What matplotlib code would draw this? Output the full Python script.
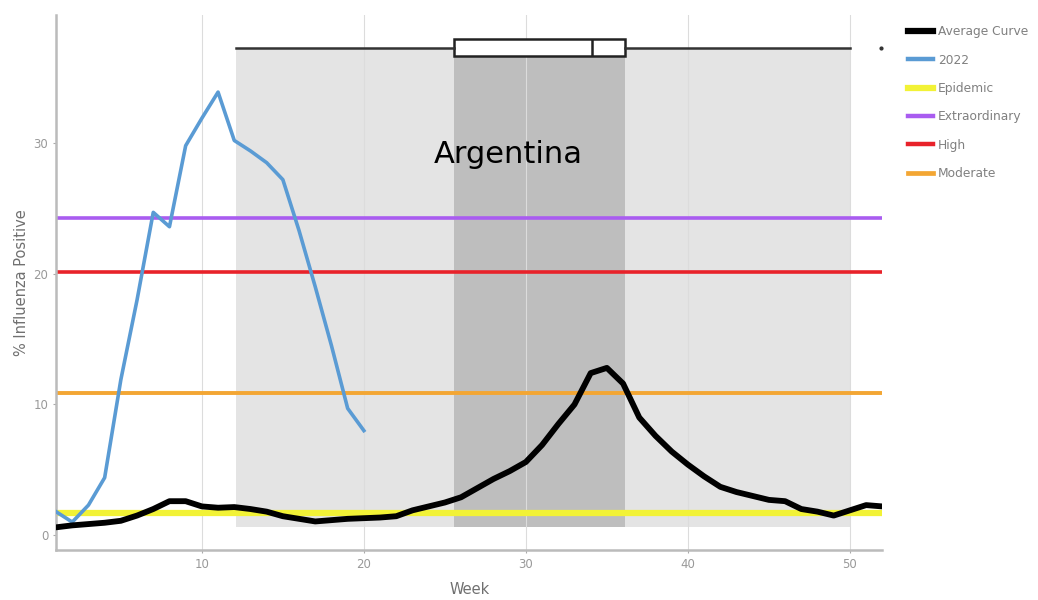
import numpy as np
import matplotlib as mpl
mpl.use('Agg')
import matplotlib.pyplot as plt

# weekly average curve (weeks 1-52)
weeks = list(range(1, 53))
avg_curve = [0.6, 0.75, 0.85, 0.95, 1.1, 1.5, 2.0, 2.6, 2.6, 2.2,
             2.1, 2.15, 2.0, 1.8, 1.45, 1.25, 1.05, 1.15, 1.25, 1.3,
             1.35, 1.45, 1.9, 2.2, 2.5, 2.9, 3.6, 4.3, 4.9, 5.6,
             6.9, 8.5, 10.0, 12.4, 12.8, 11.6, 9.0, 7.6, 6.4, 5.4,
             4.5, 3.7, 3.3, 3.0, 2.7, 2.6, 2.0, 1.8, 1.5, 1.9,
             2.3, 2.2]

# 2022 season (weeks 1-20)
weeks_2022 = list(range(1, 21))
y2022 = [1.8, 1.0, 2.3, 4.4, 11.9, 18.0, 24.7, 23.6, 29.8, 31.9,
         33.9, 30.2, 29.4, 28.5, 27.2, 23.3, 19.0, 14.5, 9.7, 8.0]

# intensity thresholds
thr_names = ["Epidemic", "Extraordinary", "High", "Moderate"]
thr_values = [1.7, 24.25, 20.1, 10.9]
thr_colors = ["#f2f236", "#a95cf0", "#e8222a", "#f3a633"]
thr_widths = [4.5, 2.6, 2.6, 2.8]

# season box (weeks): whisker low, q1, median, q3, whisker high, outlier
season_box = dict(whislo=12.1, q1=25.55, med=34.1, q3=36.1, whishi=50.0,
                  fliers=[51.9])
box_y = 37.3
shade_bottom = 0.6

fig = plt.figure(figsize=(10.38, 6.0), dpi=100)
ax = fig.add_axes([0.054, 0.083, 0.796, 0.892])

# shaded season areas
ax.fill_between([season_box["whislo"], season_box["whishi"]], shade_bottom, box_y,
                color="#e4e4e4", lw=0, zorder=1)
ax.fill_between([season_box["q1"], season_box["q3"]], shade_bottom, box_y,
                color="#bebebe", lw=0, zorder=1)

ax.grid(axis="x", color="#dcdcdc", lw=0.8)
ax.grid(axis="y", visible=False)

lines = {}
for name, val, col, w in zip(thr_names, thr_values, thr_colors, thr_widths):
    lines[name] = ax.axhline(val, color=col, lw=w, zorder=2)
lines["2022"], = ax.plot(weeks_2022, y2022, color="#5a9bd4", lw=2.6,
                         solid_joinstyle="round", zorder=3)
lines["Average Curve"], = ax.plot(weeks, avg_curve, color="black", lw=4.2,
                                  solid_joinstyle="round", zorder=4)

# season box plot on top
stats = dict(season_box, label="")
ax.bxp([stats], positions=[box_y], widths=1.3, vert=False, patch_artist=True,
       showcaps=False, manage_ticks=False,
       boxprops=dict(facecolor="white", edgecolor="#222222", lw=1.8),
       whiskerprops=dict(color="#333333", lw=1.8),
       medianprops=dict(color="#222222", lw=1.8),
       flierprops=dict(marker="o", markersize=2, markerfacecolor="#333333",
                       markeredgecolor="#333333"))
for art in ax.get_children():
    if isinstance(art, mpl.lines.Line2D) and art.get_marker() == "o":
        art.set_clip_on(False)

ax.text(28.9, 29.1, "Argentina", fontsize=22, ha="center", va="center",
        color="black", zorder=6)

ax.set_xlim(1, 52)
ax.set_ylim(-1.15, 39.8)
ax.set_xticks([10, 20, 30, 40, 50])
ax.set_yticks([0, 10, 20, 30])
ax.tick_params(colors="#aaaaaa", labelsize=8.5, length=2, width=0.8,
               labelcolor="#999999")
for s in ["top", "right"]:
    ax.spines[s].set_visible(False)
for s in ["left", "bottom"]:
    ax.spines[s].set_color("#bbbbbb")
    ax.spines[s].set_linewidth(1.8)

ax.set_xlabel("Week", fontsize=10.5, color="#707070", labelpad=8)
ax.set_ylabel("% Influenza Positive", fontsize=10.5, color="#707070", labelpad=3)

order = ["Average Curve", "2022"] + thr_names
handles = [lines[k] for k in order]
leg = fig.legend(handles, order, loc="upper left",
                 bbox_to_anchor=(0.864, 0.976), frameon=False, fontsize=8.8,
                 handlelength=2.1, labelspacing=1.25, handletextpad=0.35,
                 labelcolor="#808080")
for h, src in zip(leg.legend_handles, handles):
    h.set_linewidth(min(src.get_linewidth() + 0.6, 4.5))

fig.savefig("out.png", dpi=100)
